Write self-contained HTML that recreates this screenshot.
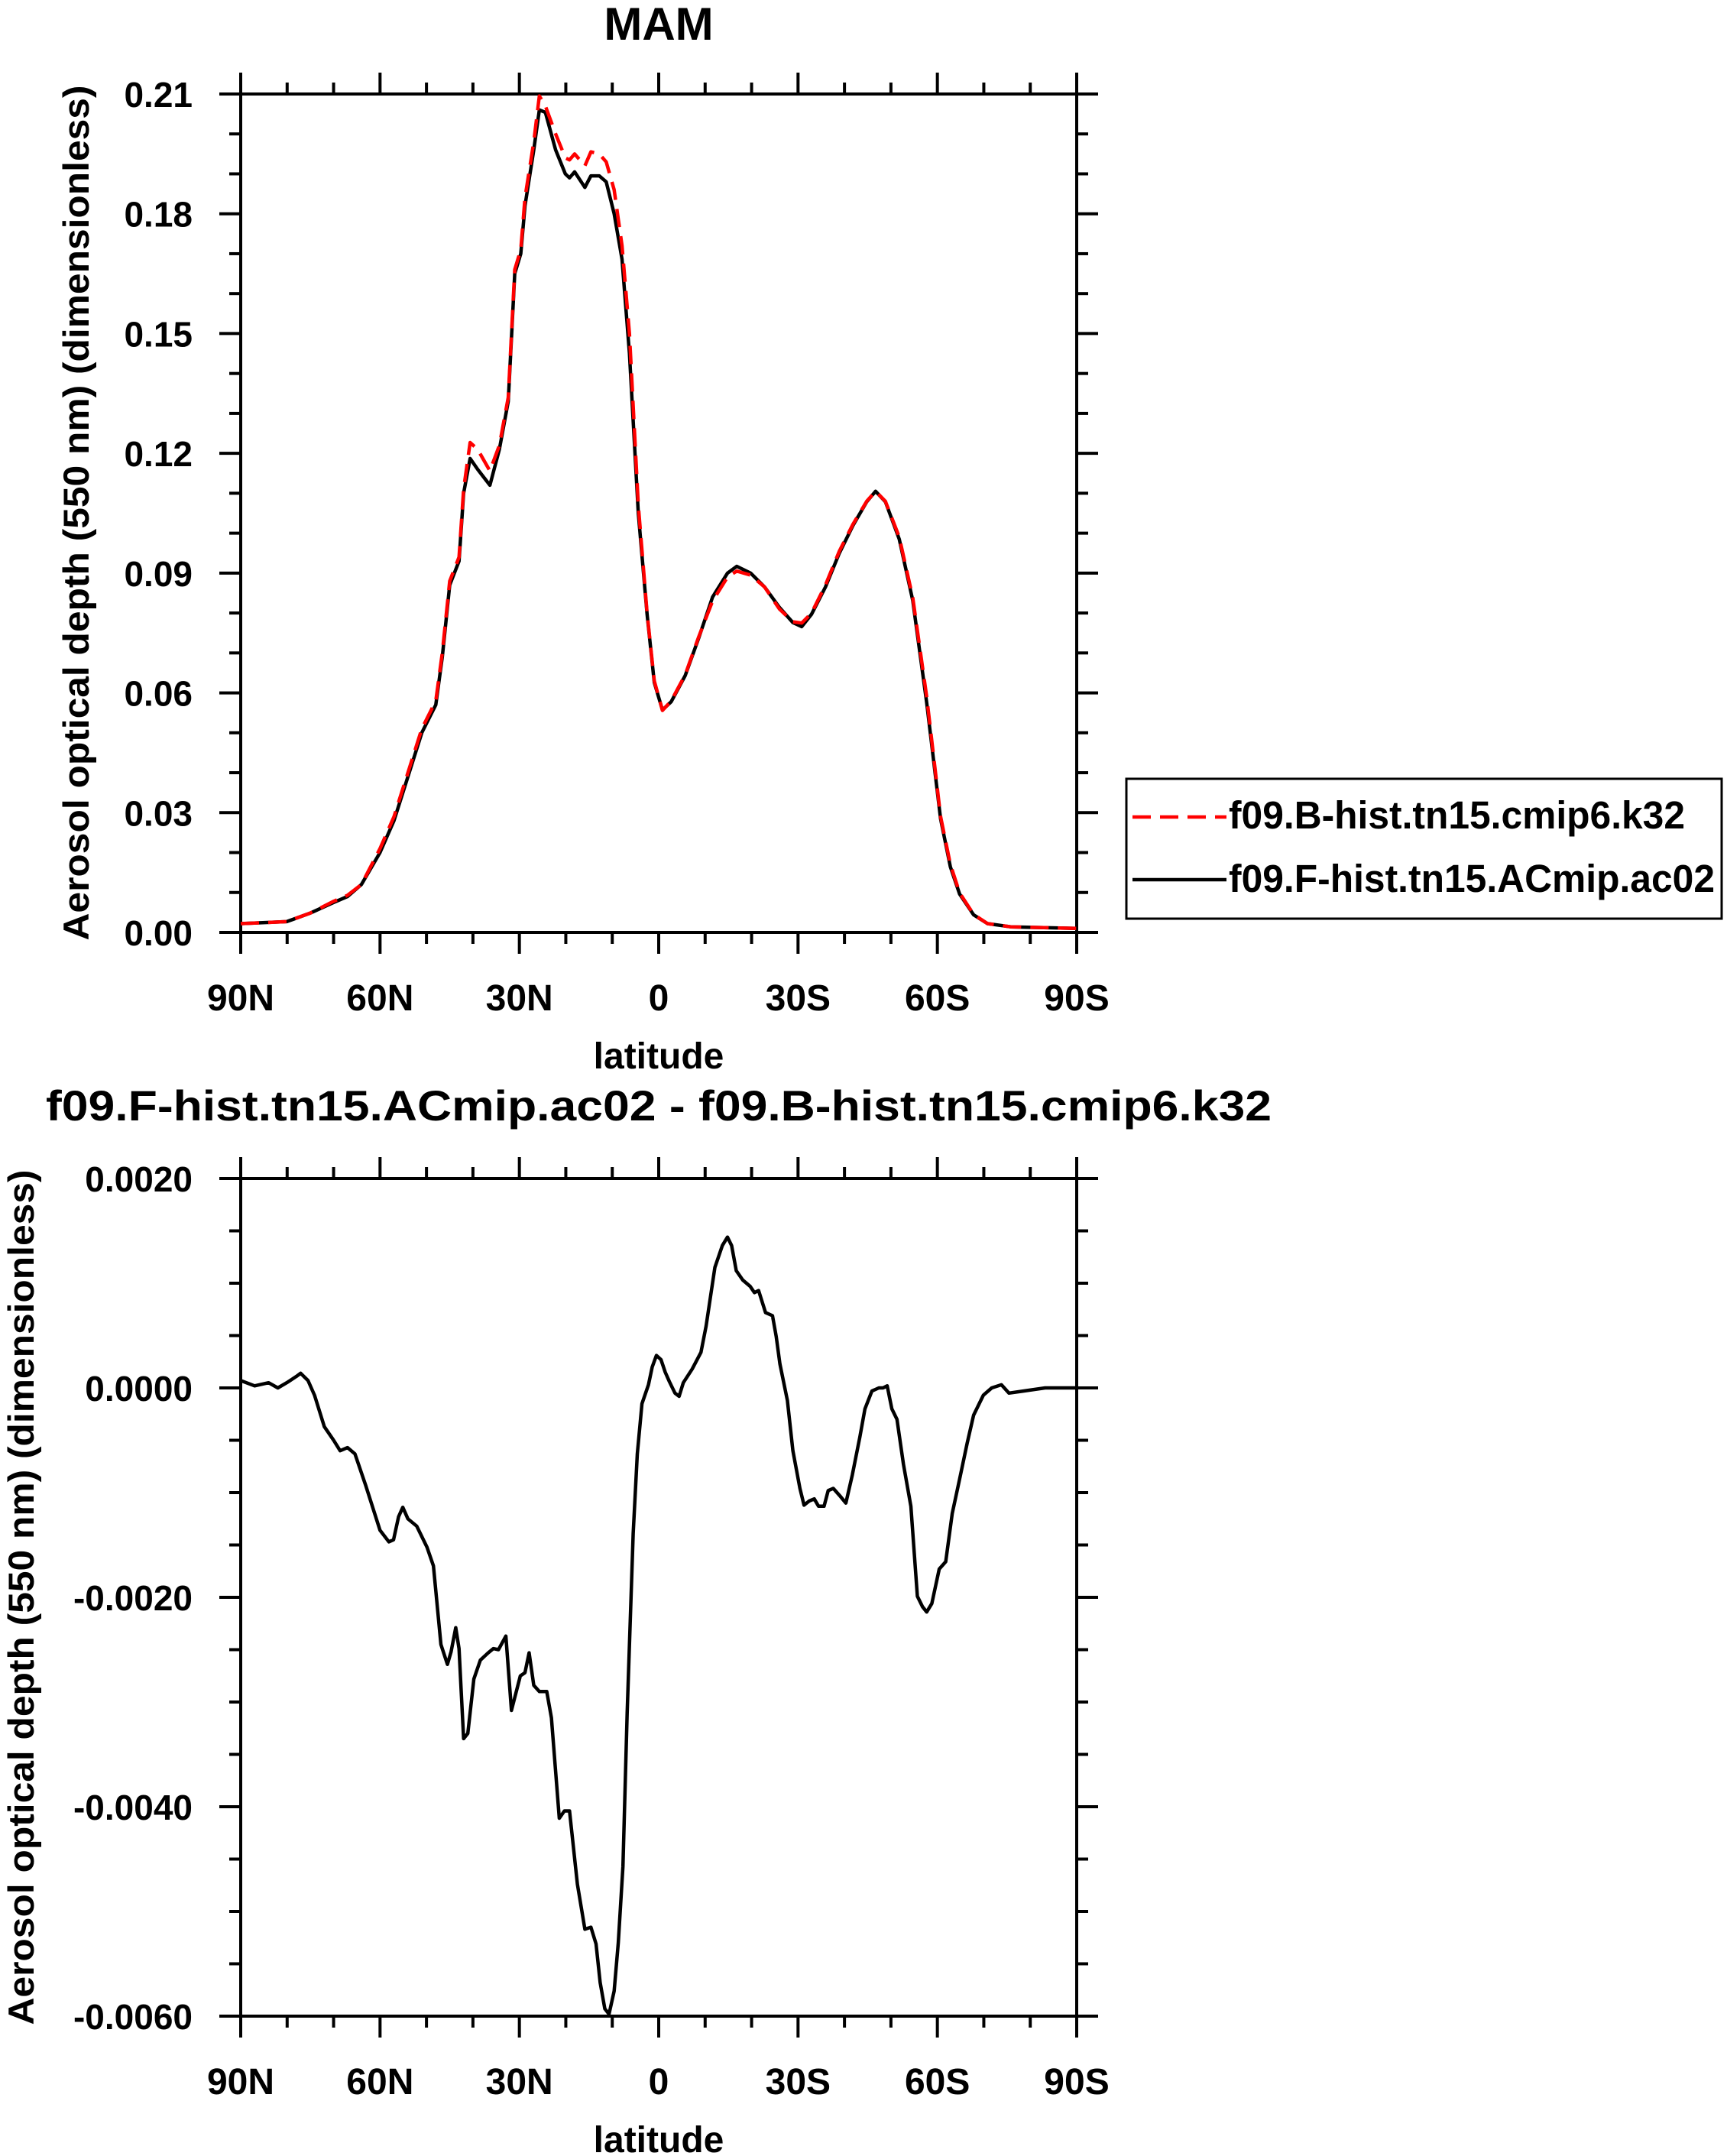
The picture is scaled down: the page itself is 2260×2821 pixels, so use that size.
<!DOCTYPE html>
<html><head><meta charset="utf-8"><style>
html,body{margin:0;padding:0;background:#fff}
svg{display:block}
text{font-family:"Liberation Sans",Arial,sans-serif;font-weight:bold;fill:#000}
</style></head><body>
<svg id="chart" width="2260" height="2821" viewBox="0 0 2260 2821" xmlns="http://www.w3.org/2000/svg"></svg>
<script>
// ---- data ----
const lats = [90,80.1,75.1,70.0,67.0,64.0,60.0,57.0,54.0,51.0,48.0,46.6,45.0,43.0,42.0,40.6,39.0,36.35,34.3,32.4,31.0,29.7,28.8,26.9,25.7,24.4,22.2,20.1,19.2,18.1,15.9,14.6,12.8,11.3,9.6,7.9,6.3,4.4,2.5,0.95,-0.8,-2.7,-5.7,-8.6,-11.6,-14.8,-16.8,-19.8,-22.8,-26.0,-28.9,-30.8,-32.9,-35.9,-38.9,-41.8,-44.8,-46.7,-48.8,-51.8,-54.7,-57.7,-60.7,-62.8,-64.8,-67.8,-70.8,-75.8,-90];
const aodF = [0.0022,0.0027,0.0048,0.0075,0.009,0.012,0.020,0.028,0.039,0.050,0.057,0.069,0.087,0.093,0.110,0.1187,0.116,0.112,0.121,0.133,0.165,0.170,0.182,0.196,0.206,0.2054,0.196,0.190,0.189,0.1905,0.1866,0.1895,0.1895,0.188,0.180,0.1686,0.145,0.105,0.0797,0.0626,0.0557,0.0578,0.0643,0.0737,0.084,0.090,0.0917,0.090,0.0865,0.0814,0.0776,0.0766,0.0797,0.0865,0.095,0.1019,0.1079,0.1105,0.1079,0.0985,0.0831,0.0575,0.0284,0.0164,0.0096,0.0044,0.0022,0.0014,0.0010];
const aodB = [0.0022,0.0027,0.0048,0.0078,0.0093,0.012,0.021,0.029,0.040,0.051,0.058,0.070,0.088,0.094,0.111,0.1227,0.121,0.1156,0.122,0.134,0.166,0.171,0.184,0.198,0.2095,0.207,0.200,0.194,0.1935,0.195,0.192,0.1955,0.195,0.193,0.186,0.172,0.150,0.107,0.0800,0.0630,0.0556,0.0580,0.0645,0.0740,0.083,0.089,0.0905,0.0895,0.0865,0.081,0.0778,0.0775,0.0800,0.0870,0.0955,0.1022,0.108,0.1105,0.108,0.099,0.0838,0.059,0.029,0.017,0.0099,0.0045,0.0022,0.0014,0.0010];
const diffLats = [90,87.0,84.0,82.0,80.1,78.0,77.1,75.5,74.1,72.0,70.0,68.6,67.0,65.4,63.1,60.0,58.1,57.1,56.0,55.1,54.0,52.1,49.9,48.5,46.9,45.5,44.7,43.7,43.0,42.0,41.1,39.8,38.4,36.7,35.6,34.5,32.9,31.7,29.8,28.8,27.9,26.9,25.7,24.1,23.1,21.4,20.3,19.2,17.5,15.9,14.6,13.5,12.6,11.6,10.7,9.6,8.7,7.7,6.8,5.5,4.6,3.6,2.2,1.4,0.5,-0.5,-1.4,-2.3,-3.5,-4.4,-5.3,-7.2,-9.1,-10.2,-12.1,-13.7,-14.8,-15.7,-16.7,-18.1,-19.7,-20.6,-21.5,-23.0,-24.5,-25.3,-26.1,-27.7,-28.9,-30.4,-31.3,-32.4,-33.5,-34.4,-35.6,-36.5,-37.6,-39.0,-40.3,-41.7,-43.3,-44.4,-45.9,-47.4,-48.3,-49.2,-50.2,-51.3,-52.7,-54.3,-55.7,-56.8,-57.7,-58.8,-60.4,-61.8,-63.2,-64.8,-66.4,-67.8,-69.9,-71.7,-73.8,-75.4,-78.5,-83.2,-90];
const diffVals = [0.00007,0.00002,0.00005,0,0.00005,0.00011,0.00014,0.00007,-0.00007,-0.00037,-0.0005,-0.0006,-0.00057,-0.00063,-0.00093,-0.00136,-0.00147,-0.00145,-0.00123,-0.00114,-0.00125,-0.00132,-0.00152,-0.0017,-0.00245,-0.00264,-0.00252,-0.00229,-0.00249,-0.00335,-0.0033,-0.00278,-0.0026,-0.00253,-0.00249,-0.0025,-0.00237,-0.00308,-0.00275,-0.00272,-0.00253,-0.00284,-0.0029,-0.0029,-0.00315,-0.00411,-0.00404,-0.00404,-0.00474,-0.00517,-0.00515,-0.00531,-0.00568,-0.00593,-0.00598,-0.00576,-0.0053,-0.00457,-0.00311,-0.00139,-0.00063,-0.00015,0.00003,0.0002,0.00031,0.00027,0.00015,0.00006,-0.00005,-0.00008,0.00005,0.00018,0.00034,0.00059,0.00115,0.00136,0.00144,0.00136,0.00112,0.00103,0.00097,0.00091,0.00093,0.00072,0.00069,0.00049,0.00023,-0.00012,-0.0006,-0.00096,-0.00112,-0.00108,-0.00106,-0.00113,-0.00113,-0.00098,-0.00096,-0.00103,-0.0011,-0.00083,-0.00047,-0.0002,-0.00003,0,0,0.00002,-0.0002,-0.0003,-0.00073,-0.00113,-0.00199,-0.00209,-0.00214,-0.00206,-0.00173,-0.00166,-0.0012,-0.00087,-0.00053,-0.00026,-0.00007,0,0.00003,-0.00005,-0.00003,0,0];
const xTickVals = [90,60,30,0,-30,-60,-90];
const xTickLabels = ["90N","60N","30N","0","30S","60S","90S"];
const topYTicks = [0,0.03,0.06,0.09,0.12,0.15,0.18,0.21];
const topYLabels = ["0.00","0.03","0.06","0.09","0.12","0.15","0.18","0.21"];
const botYTicks = [-0.006,-0.004,-0.002,0,0.002];
const botYLabels = ["-0.0060","-0.0040","-0.0020","0.0000","0.0020"];

const NS="http://www.w3.org/2000/svg";
const svg=document.getElementById('chart');
function mk(tag,attrs,parent){const e=document.createElementNS(NS,tag);for(const k in attrs)e.setAttribute(k,attrs[k]);(parent||svg).appendChild(e);return e;}
const X0=315,X1=1409;
const xs=lat=>X0+(90-lat)/180*(X1-X0);

function panel(name,top,bot,ymin,ymax,yticks,ylabels,minorStep){
  const g=mk('g',{});
  
  
  const ys=v=>bot-(v-ymin)/(ymax-ymin)*(bot-top);
  for(let l=-90;l<=90;l+=10){
    const major=l%30===0;const L=major?28:15;const x=xs(l);
    const t1=mk('line',{x1:x,x2:x,y1:bot,y2:bot+L,stroke:'#000','stroke-width':4},g);
    
    
    mk('line',{x1:x,x2:x,y1:top,y2:top-L,stroke:'#000','stroke-width':4},g);
  }
  const nMin=Math.round((ymax-ymin)/minorStep);
  for(let i=0;i<=nMin;i++){
    const v=ymin+i*minorStep;const major=yticks.some(t=>Math.abs(t-v)<minorStep/10);
    const L=major?28:15;const y=ys(v);
    const t=mk('line',{x1:X0,x2:X0-L,y1:y,y2:y,stroke:'#000','stroke-width':4},g);
    
    
    mk('line',{x1:X1,x2:X1+L,y1:y,y2:y,stroke:'#000','stroke-width':4},g);
  }
  yticks.forEach((v,i)=>{
    const t=mk('text',{x:252,y:ys(v)+17,'text-anchor':'end','font-size':46},g);
    t.textContent=ylabels[i];
    
    
  });
  xTickVals.forEach((v,i)=>{
    const t=mk('text',{x:xs(v),y:bot+102,'text-anchor':'middle','font-size':48},g);
    t.textContent=xTickLabels[i];
    
    
  });
  const f=mk('rect',{x:X0,y:top,width:X1-X0,height:bot-top,fill:'none',stroke:'#000','stroke-width':4},g);
  
  
  return {g,ys};
}
function line(g,la,va,ys,color,dash,name){
  let d='';la.forEach((l,i)=>{d+=(i?'L':'M')+xs(l).toFixed(1)+','+ys(va[i]).toFixed(1);});
  const p=mk('path',{d:d,fill:'none',stroke:color,'stroke-width':4.5,'stroke-linejoin':'round'},g);
  if(dash)p.setAttribute('stroke-dasharray',dash);
  
  
}
function label(txt,attrs,name){const t=mk('text',attrs);t.textContent=txt;}

const P1=panel('top-panel',123,1220,0,0.21,topYTicks,topYLabels,0.01);
line(P1.g,lats,aodF,P1.ys,'#000',null,'series-f09-F');
line(P1.g,lats,aodB,P1.ys,'#ff0000','24 12','series-f09-B');
label('MAM',{x:862,y:52,'text-anchor':'middle','font-size':60},'top-title');
label('latitude',{x:862,y:1398,'text-anchor':'middle','font-size':48},'top-x-axis-title');
label('Aerosol optical depth (550 nm) (dimensionless)',{x:0,y:0,transform:'translate(116,671) rotate(-90)','text-anchor':'middle','font-size':47,textLength:1119,lengthAdjust:'spacingAndGlyphs'},'top-y-axis-title');

const lg=mk('g',{});


mk('rect',{x:1474,y:1019,width:779,height:183,fill:'#fff',stroke:'#000','stroke-width':3},lg);
const l1=mk('line',{x1:1482,x2:1605,y1:1069,y2:1069,stroke:'#ff0000','stroke-width':4.5,'stroke-dasharray':'24 12'},lg);


const l2=mk('line',{x1:1482,x2:1605,y1:1151,y2:1151,stroke:'#000','stroke-width':4.5},lg);


label('f09.B-hist.tn15.cmip6.k32',{x:1608,y:1084,'font-size':51,textLength:597,lengthAdjust:'spacingAndGlyphs'},'legend-label-B');
label('f09.F-hist.tn15.ACmip.ac02',{x:1608,y:1167,'font-size':51,textLength:636,lengthAdjust:'spacingAndGlyphs'},'legend-label-F');

const P2=panel('bottom-panel',1542,2638,-0.006,0.002,botYTicks,botYLabels,0.0005);
line(P2.g,diffLats,diffVals,P2.ys,'#000',null,'series-difference');
label('f09.F-hist.tn15.ACmip.ac02 - f09.B-hist.tn15.cmip6.k32',{x:862,y:1466,'text-anchor':'middle','font-size':56,textLength:1604,lengthAdjust:'spacingAndGlyphs'},'bottom-title');
label('latitude',{x:862,y:2816,'text-anchor':'middle','font-size':48},'bottom-x-axis-title');
label('Aerosol optical depth (550 nm) (dimensionless)',{x:0,y:0,transform:'translate(44,2090) rotate(-90)','text-anchor':'middle','font-size':47,textLength:1119,lengthAdjust:'spacingAndGlyphs'},'bottom-y-axis-title');
</script>
</body></html>
